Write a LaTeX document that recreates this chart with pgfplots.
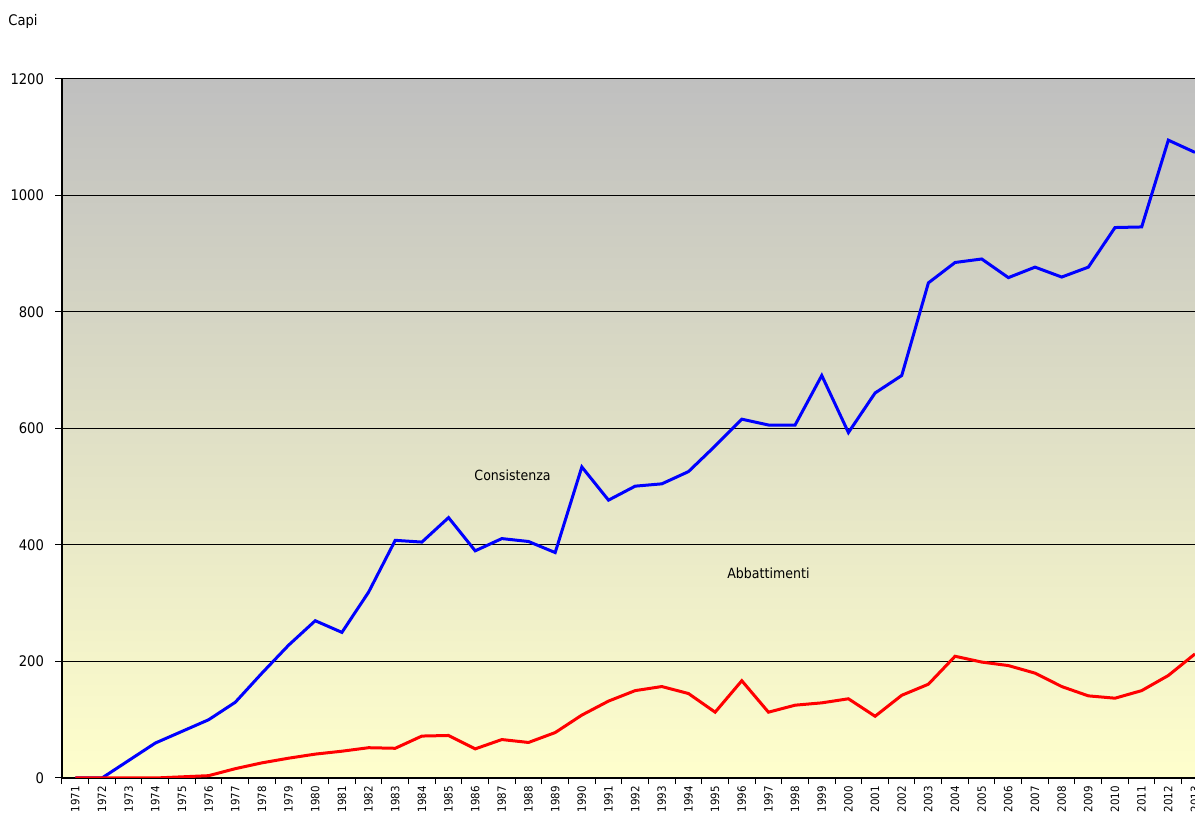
\documentclass[border=0pt]{standalone}
\usepackage{pgfplots}
\pgfplotsset{compat=1.18}
\usepackage{fontspec}
\setmainfont{DejaVu Sans Condensed}
\begin{document}
\begin{tikzpicture}
\useasboundingbox (-31pt,-18pt) rectangle (566.5pt,389pt);
\begin{axis}[
 scale only axis,width=566.5pt,height=349.5pt,
 xmin=1970.5,xmax=2013,ymin=0,ymax=1200,
 axis lines=left,axis line style={-,black,line width=0.8pt},
 axis background/.style={top color=gray!50,bottom color=yellow!20},
 ytick={0,200,...,1200},ymajorgrids,
 major grid style={black,line width=0.5pt},
 xtick={1971,...,2013},
 major x tick style={draw=none},
 minor xtick={1970.5,1971.5,...,2012.5},
 minor x tick style={black,line width=0.5pt},
 major y tick style={black,line width=0.5pt},
 tick align=outside,major tick length=3.5pt,minor tick length=3pt,
 /pgf/number format/assume math mode=true,
 /pgf/number format/set thousands separator={},
 yticklabel style={font=\fontsize{7.3}{8}\selectfont,xshift=-2pt},
 xticklabel style={font=\fontsize{5.7}{7}\selectfont,rotate=90,anchor=east,inner sep=0.5pt},
 clip=true]
\addplot[blue,line width=1.5pt] coordinates {
(1971,0) (1972,0) (1973,30) (1974,60) (1975,80) (1976,100) (1977,130) (1978,180)
(1979,228) (1980,270) (1981,250) (1982,319) (1983,408) (1984,405) (1985,447)
(1986,390) (1987,411) (1988,406) (1989,387) (1990,534) (1991,477) (1992,501)
(1993,505) (1994,526) (1995,570) (1996,616) (1997,606) (1998,606) (1999,691)
(2000,593) (2001,661) (2002,691) (2003,850) (2004,885) (2005,891) (2006,859)
(2007,877) (2008,860) (2009,877) (2010,945) (2011,946) (2012,1095) (2013,1074)};
\addplot[red,line width=1.5pt] coordinates {
(1971,0) (1972,0) (1973,0) (1974,0) (1975,2) (1976,4) (1977,16) (1978,26)
(1979,34) (1980,41) (1981,46) (1982,52) (1983,51) (1984,72) (1985,73)
(1986,50) (1987,66) (1988,61) (1989,78) (1990,108) (1991,132) (1992,150)
(1993,157) (1994,145) (1995,113) (1996,167) (1997,113) (1998,125) (1999,129)
(2000,136) (2001,106) (2002,142) (2003,161) (2004,209) (2005,199) (2006,193)
(2007,180) (2008,157) (2009,141) (2010,137) (2011,150) (2012,176) (2013,213)};
\node[font=\fontsize{7}{8}\selectfont] at (axis cs:1987.4,520) {Consistenza};
\node[font=\fontsize{7}{8}\selectfont] at (axis cs:1997,352) {Abbattimenti};
\end{axis}
\node[anchor=west,inner sep=0pt,font=\fontsize{7.3}{8}\selectfont] at (-27pt,378.5pt) {Capi};
\end{tikzpicture}
\end{document}
